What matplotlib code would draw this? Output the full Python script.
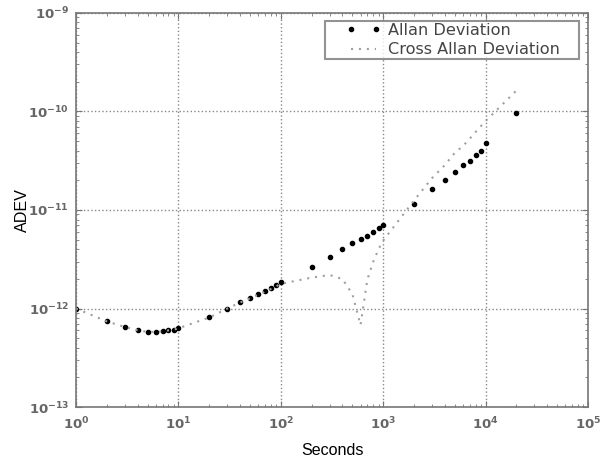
import matplotlib
matplotlib.use("Agg")
import matplotlib.pyplot as plt
from matplotlib.ticker import LogLocator, NullFormatter
from matplotlib.legend_handler import HandlerLine2D

taus = [1, 2, 3, 4, 5, 6, 7, 8, 9, 10,
        20, 30, 40, 50, 60, 70, 80, 90, 100,
        200, 300, 400, 500, 600, 700, 800, 900, 1000,
        2000, 3000, 4000, 5000, 6000, 7000, 8000, 9000, 10000, 20000]

adev = [1.0e-12, 7.4e-13, 6.5e-13, 6.0e-13, 5.8e-13, 5.8e-13, 5.85e-13, 6.0e-13, 6.1e-13, 6.35e-13,
        8.2e-13, 1.0e-12, 1.16e-12, 1.28e-12, 1.39e-12, 1.5e-12, 1.62e-12, 1.72e-12, 1.85e-12,
        2.65e-12, 3.3e-12, 4.0e-12, 4.6e-12, 5.1e-12, 5.5e-12, 6.0e-12, 6.5e-12, 7.0e-12,
        1.15e-11, 1.63e-11, 2.0e-11, 2.45e-11, 2.85e-11, 3.15e-11, 3.6e-11, 4.0e-11, 4.8e-11, 9.6e-11]

cross = [1.0e-12, 7.4e-13, 6.5e-13, 6.0e-13, 5.8e-13, 5.8e-13, 5.85e-13, 6.0e-13, 6.1e-13, 6.3e-13,
         8.1e-13, 1.0e-12, 1.15e-12, 1.27e-12, 1.38e-12, 1.48e-12, 1.58e-12, 1.68e-12, 1.78e-12,
         2.06e-12, 2.19e-12, 1.99e-12, 1.4e-12, 6.8e-13, 1.97e-12, 3.0e-12, 4.0e-12, 4.9e-12,
         1.25e-11, 2.11e-11, 2.86e-11, 3.8e-11, 4.45e-11, 5.3e-11, 6.2e-11, 7.1e-11, 8.0e-11, 1.63e-10]

fig = plt.figure(figsize=(6.1, 4.61), dpi=100)
ax = fig.add_axes([0.1246, 0.117, 0.8394, 0.855])

l1, = ax.loglog(taus, adev, 'k.', markersize=6, label='Allan Deviation')
l2, = ax.loglog(taus, cross, linestyle=(0, (1, 2.8)), color='#a0a0a0', linewidth=1.5,
                label='Cross Allan Deviation')

ax.set_xlim(1, 1e5)
ax.set_ylim(1e-13, 1e-9)
ax.grid(True, which='major', color='#888888', linestyle=':', linewidth=1.0)

for s in ax.spines.values():
    s.set_color('#777777')
    s.set_linewidth(1.2)

ax.tick_params(which='both', direction='in', top=True, right=True, colors='#777777',
               labelcolor='#666666', labelsize=9.5)
ax.tick_params(which='major', length=4)
ax.tick_params(which='minor', length=2)
ax.xaxis.set_major_locator(LogLocator(base=10, numticks=10))
ax.yaxis.set_major_locator(LogLocator(base=10, numticks=10))
ax.xaxis.set_minor_locator(LogLocator(base=10, subs=range(2, 10), numticks=20))
ax.yaxis.set_minor_locator(LogLocator(base=10, subs=range(2, 10), numticks=20))
ax.xaxis.set_minor_formatter(NullFormatter())
ax.yaxis.set_minor_formatter(NullFormatter())
for lab in ax.get_xticklabels() + ax.get_yticklabels():
    lab.set_fontweight('bold')
ax.tick_params(axis='x', pad=6)
ax.tick_params(axis='y', pad=5)

ax.set_xlabel('Seconds', fontsize=11.6, family='Liberation Sans')
ax.set_ylabel('ADEV', fontsize=11.6, family='Liberation Sans')
ax.xaxis.set_label_coords(0.5, -0.092)
ax.yaxis.set_label_coords(-0.09, 0.5)

hm = {l1: HandlerLine2D(marker_pad=1.49, numpoints=2),
      l2: HandlerLine2D(marker_pad=1.49, numpoints=2)}
leg = ax.legend(loc='upper left', numpoints=2, fancybox=False, fontsize=11.6,
                borderpad=0.1, labelspacing=0.29, handlelength=4.57, handletextpad=-0.79,
                borderaxespad=0, mode='expand', handler_map=hm,
                bbox_to_anchor=(0.4863, 0.0, 0.4961, 0.979))
leg.get_frame().set_edgecolor('#777777')
leg.get_frame().set_linewidth(1.5)
for t in leg.get_texts():
    t.set_color('#444444')

fig.savefig('out.png', dpi=100)
